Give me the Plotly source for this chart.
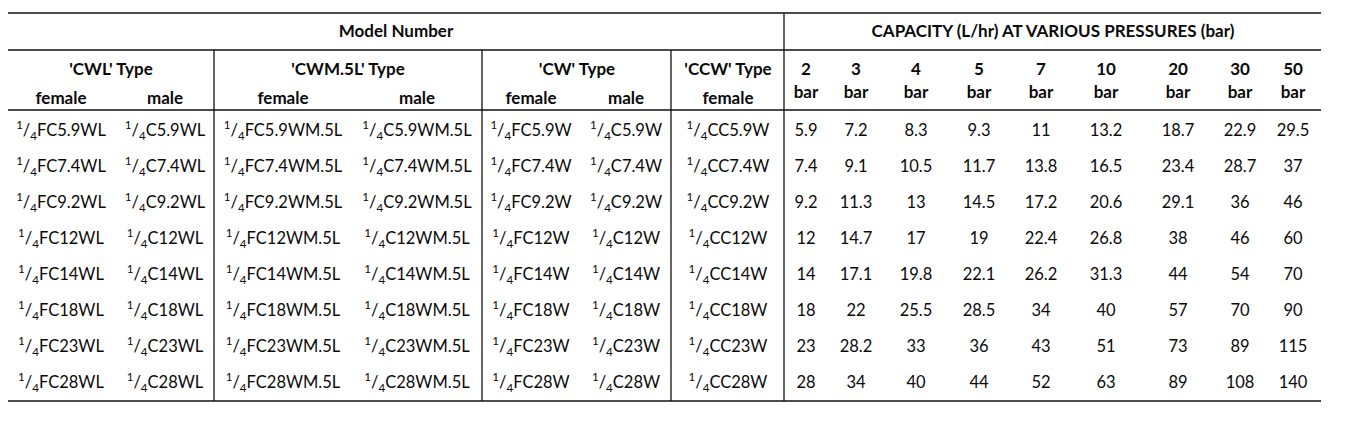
# =============================================================================
# DRIPPER CAPACITY TABLE
# =============================================================================
import plotly.graph_objects as go

# =============================================================================
# DATA
# =============================================================================
sizes = ["5.9", "7.4", "9.2", "12", "14", "18", "23", "28"]

# model number patterns per column (prefix, suffix)
model_types = ["'CWL' Type", "'CWM.5L' Type", "'CW' Type", "'CCW' Type"]
model_cols = [("FC", "WL"), ("C", "WL"),
              ("FC", "WM.5L"), ("C", "WM.5L"),
              ("FC", "W"), ("C", "W"),
              ("CC", "W")]
model_genders = ["female", "male", "female", "male", "female", "male", "female"]

pressures = ["2", "3", "4", "5", "7", "10", "20", "30", "50"]
cap_2 = ["5.9", "7.4", "9.2", "12", "14", "18", "23", "28"]
cap_3 = ["7.2", "9.1", "11.3", "14.7", "17.1", "22", "28.2", "34"]
cap_4 = ["8.3", "10.5", "13", "17", "19.8", "25.5", "33", "40"]
cap_5 = ["9.3", "11.7", "14.5", "19", "22.1", "28.5", "36", "44"]
cap_7 = ["11", "13.8", "17.2", "22.4", "26.2", "34", "43", "52"]
cap_10 = ["13.2", "16.5", "20.6", "26.8", "31.3", "40", "51", "63"]
cap_20 = ["18.7", "23.4", "29.1", "38", "44", "57", "73", "89"]
cap_30 = ["22.9", "28.7", "36", "46", "54", "70", "89", "108"]
cap_50 = ["29.5", "37", "46", "60", "70", "90", "115", "140"]
capacities = [cap_2, cap_3, cap_4, cap_5, cap_7, cap_10, cap_20, cap_30, cap_50]

# =============================================================================
# LAYOUT CONSTANTS (pixel grid of the page)
# =============================================================================
W, H = 1349, 423
PAD = 8  # browser body margin around the plot div
FONT = "Lato"
FS_HEAD = 17
FS_BODY = 16.5

x_left, x_right = 8, 1321
y_top, y_head, y_sub, y_bottom = 13, 50, 110, 401
group_edges = [214, 482, 671]
split_x = 784

model_x = [61, 165, 283, 417, 531, 626, 728]
type_x = [111, 348, 577, 728]
press_x = [806, 856, 916, 979, 1041, 1106, 1178, 1240, 1293]
row_y0, row_dy = 132, 36.0

# =============================================================================
# VISUALISATION
# =============================================================================
fig = go.Figure()

def add_text(xs, ys, texts, bold=False):
    fig.add_trace(go.Scatter(
        x=xs, y=ys, mode="text",
        text=[f"<b>{t}</b>" if bold else t for t in texts],
        textposition="middle center",
        textfont=dict(family=FONT, size=FS_HEAD if bold else FS_BODY,
                      color="#0a0a0a"),
        hoverinfo="skip", showlegend=False
    ))

row_y = [row_y0 + i * row_dy for i in range(len(sizes))]

# header texts
add_text([396, 1053], [33, 33],
         ["Model Number", "CAPACITY (L/hr) AT VARIOUS PRESSURES (bar)"], bold=True)
add_text(type_x, [71] * len(type_x), model_types, bold=True)
add_text(model_x, [100] * len(model_x), model_genders, bold=True)
add_text(press_x, [71] * len(press_x), pressures, bold=True)
add_text(press_x, [94] * len(press_x), ["bar"] * len(press_x), bold=True)

# model numbers
for cx, (pre, suf) in zip(model_x, model_cols):
    add_text([cx] * len(sizes), row_y,
             [f"<sup>1</sup>/<sub>4</sub>{pre}{s}{suf}" for s in sizes])

# capacities
for cx, col in zip(press_x, capacities):
    add_text([cx] * len(col), row_y, col)

# table rules
line = dict(color="#111111", width=1.3)
for y in [y_top, y_head, y_sub, y_bottom]:
    fig.add_shape(type="line", x0=x_left, x1=x_right, y0=y, y1=y,
                  xref="x", yref="y", line=line)
for x in group_edges:
    fig.add_shape(type="line", x0=x, x1=x, y0=y_head, y1=y_bottom,
                  xref="x", yref="y", line=line)
fig.add_shape(type="line", x0=split_x, x1=split_x, y0=y_top, y1=y_bottom,
              xref="x", yref="y", line=line)

fig.update_layout(
    width=W - 2 * PAD, height=H - 2 * PAD,
    margin=dict(l=0, r=0, t=0, b=0),
    paper_bgcolor="white", plot_bgcolor="white",
    xaxis=dict(range=[PAD, W - PAD], visible=False, fixedrange=True),
    yaxis=dict(range=[H - PAD, PAD], visible=False, fixedrange=True),
)

fig.write_html("out.html")
